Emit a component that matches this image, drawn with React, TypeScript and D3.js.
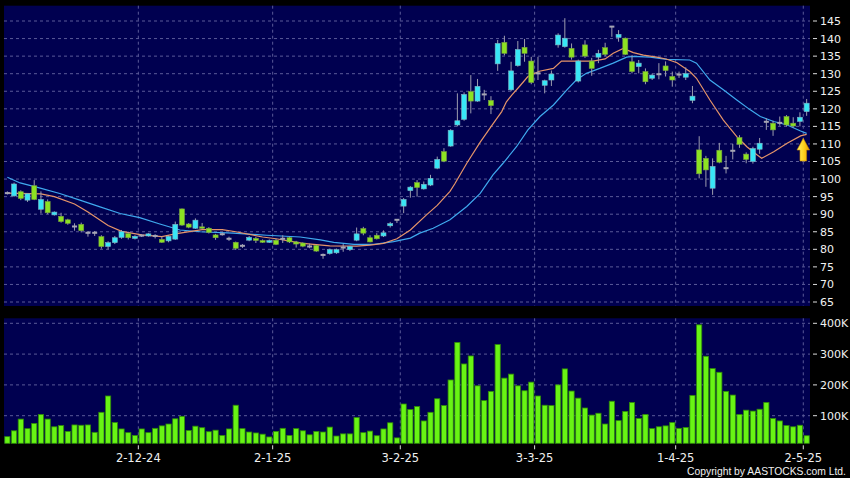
import * as d3 from "d3";

// daily candles, 4 Nov 2024 .. 2 May 2025 (index = trading day)
const OPEN = [
  96.0, 95.2, 96.4, 94.0, 98.1, 91.4, 93.6, 89.8, 89.4, 88.4,
  86.5, 87.1, 84.7, 84.7, 83.6, 80.8, 81.9, 83.4, 84.5, 83.1,
  83.9, 83.8, 83.8, 82.8, 82.4, 82.9, 91.5, 87.2, 86.0, 86.4,
  86.0, 84.1, 84.3, 83.0, 82.0, 81.0, 82.6, 83.1, 82.5, 82.0,
  82.6, 83.0, 83.3, 82.1, 81.8, 80.8, 81.1, 78.4, 78.8, 79.0,
  80.5, 79.9, 82.6, 85.9, 83.3, 84.0, 83.8, 86.7, 88.4, 92.3,
  96.7, 99.0, 97.2, 98.3, 103.1, 107.8, 109.4, 115.4, 117.0, 124.9,
  122.2, 124.1, 122.4, 132.8, 138.9, 125.4, 132.3, 137.5, 133.6, 130.1,
  126.7, 128.2, 138.2, 137.7, 137.2, 127.9, 138.2, 133.6, 134.7, 137.4,
  143.4, 140.3, 140.1, 133.4, 132.0, 130.6, 128.7, 129.7, 132.2, 129.2,
  129.7, 129.0, 122.4, 108.3, 105.9, 97.4, 108.2, 103.1, 107.9, 111.8,
  107.1, 105.0, 108.5, 116.3, 115.9, 116.0, 117.8, 115.9, 116.4, 119.2,
];
const HIGH = [
  96.5, 99.0, 96.8, 96.0, 99.7, 96.5, 94.2, 90.8, 90.4, 88.7,
  87.4, 87.6, 85.2, 85.2, 84.0, 82.3, 83.8, 85.5, 85.0, 84.0,
  84.3, 84.6, 84.3, 83.6, 84.0, 87.9, 91.6, 87.5, 88.8, 87.5,
  86.3, 84.4, 84.8, 83.6, 82.2, 81.5, 83.8, 83.5, 82.8, 82.8,
  83.0, 84.0, 83.6, 82.4, 82.0, 81.6, 81.3, 78.8, 80.2, 80.2,
  81.5, 81.0, 86.2, 86.4, 84.0, 84.6, 85.4, 87.8, 88.6, 94.6,
  98.0, 99.7, 99.3, 101.2, 106.4, 108.8, 114.2, 124.4, 124.7, 129.6,
  128.5, 125.4, 123.6, 139.6, 140.8, 133.4, 139.3, 139.9, 134.8, 134.8,
  128.3, 130.9, 141.5, 145.8, 138.6, 134.0, 139.5, 134.5, 136.8, 138.8,
  143.6, 142.4, 140.3, 135.3, 133.9, 131.5, 130.0, 133.0, 133.5, 130.6,
  130.6, 131.8, 126.5, 112.2, 106.6, 105.9, 110.3, 106.6, 110.0, 112.5,
  107.6, 109.2, 111.7, 117.3, 116.6, 117.8, 118.2, 117.6, 119.0, 122.8,
];
const LOW = [
  95.6, 95.0, 94.0, 93.5, 94.0, 90.2, 90.0, 89.6, 87.6, 87.0,
  85.3, 84.8, 83.6, 83.8, 80.2, 80.0, 81.5, 83.0, 82.8, 82.8,
  83.5, 83.6, 83.1, 81.8, 82.0, 82.7, 86.7, 86.0, 85.8, 85.8,
  84.5, 82.7, 83.9, 82.4, 79.8, 80.4, 82.3, 81.8, 81.8, 81.8,
  81.2, 81.8, 81.8, 80.5, 80.6, 80.3, 79.3, 77.3, 78.5, 78.7,
  79.3, 79.5, 82.3, 84.0, 82.0, 82.8, 83.5, 86.2, 87.5, 90.3,
  94.7, 95.0, 97.0, 98.0, 102.8, 104.8, 109.2, 115.0, 116.6, 118.7,
  122.0, 122.5, 118.5, 130.8, 135.2, 125.0, 132.0, 133.4, 127.0, 128.2,
  124.4, 126.5, 137.4, 137.4, 134.0, 127.5, 134.5, 129.4, 133.0, 135.0,
  140.5, 139.1, 135.3, 130.1, 130.1, 127.0, 128.2, 128.4, 129.2, 126.3,
  128.8, 128.2, 121.6, 100.2, 97.8, 95.5, 104.5, 101.6, 105.6, 108.9,
  104.5, 104.4, 107.2, 114.0, 112.3, 115.2, 115.0, 114.6, 115.0, 118.0,
];
const CLOSE = [
  96.0, 98.6, 94.5, 95.8, 94.2, 94.2, 90.4, 90.6, 87.9, 87.4,
  86.5, 85.3, 84.7, 84.7, 80.8, 81.9, 83.3, 85.0, 83.3, 83.7,
  83.9, 84.4, 83.8, 82.0, 83.7, 87.1, 86.9, 86.3, 88.3, 86.0,
  84.8, 83.3, 84.3, 83.0, 80.3, 81.0, 83.4, 82.5, 82.0, 82.5,
  81.4, 83.0, 82.1, 81.5, 80.9, 80.8, 79.5, 78.4, 79.9, 79.9,
  80.5, 80.8, 84.4, 84.6, 82.1, 83.0, 84.7, 87.3, 88.4, 94.2,
  97.7, 97.6, 98.5, 100.2, 105.6, 105.1, 113.9, 116.6, 124.1, 122.2,
  126.4, 124.1, 120.9, 138.6, 135.8, 130.8, 136.9, 135.8, 127.5, 130.1,
  128.0, 129.9, 141.0, 140.1, 134.7, 133.6, 135.0, 131.5, 135.8, 135.5,
  143.4, 141.2, 135.5, 130.6, 133.0, 127.7, 129.6, 130.0, 130.9, 128.2,
  129.8, 130.0, 123.6, 101.5, 102.6, 103.6, 104.8, 103.1, 108.2, 109.9,
  105.6, 108.7, 110.2, 116.3, 114.0, 116.0, 115.4, 115.1, 117.6, 121.6,
];
// volume in thousands of shares
const VOLUME = [
  32, 51, 89, 58, 75, 104, 89, 64, 68, 49,
  70, 69, 70, 46, 111, 164, 78, 57, 45, 36,
  57, 45, 59, 67, 73, 90, 98, 52, 66, 61,
  48, 53, 36, 57, 134, 58, 47, 44, 40, 31,
  49, 59, 36, 58, 51, 38, 49, 47, 63, 34,
  41, 41, 94, 45, 50, 35, 57, 77, 28, 138,
  120, 130, 83, 111, 155, 133, 216, 338, 268, 294,
  197, 149, 179, 331, 222, 235, 197, 181, 209, 164,
  134, 133, 200, 252, 180, 157, 125, 102, 108, 73,
  147, 84, 114, 143, 91, 104, 58, 64, 67, 78,
  59, 62, 166, 395, 293, 253, 241, 179, 167, 104,
  118, 115, 121, 143, 91, 83, 68, 64, 69, 35,
];
// moving averages: [day index, value]
const MA_SHORT: [number, number][] = [
  [0, 96.0], [5, 95.8], [7, 95.0], [10, 92.9], [12, 90.6], [15, 86.8], [17, 85.1],
  [20, 84.1], [23, 83.6], [25, 84.4], [29, 85.6], [32, 85.6], [34, 85.0], [38, 83.5],
  [40, 83.0], [44, 81.7], [48, 81.0], [52, 80.9], [54, 81.2], [56, 81.7], [58, 83.0],
  [60, 85.5], [62.4, 89.8], [64, 92.5], [65.9, 96.5], [66.6, 98.6], [68.4, 104.5],
  [70.4, 110.5], [72.3, 115.7], [73.6, 119.2], [74.3, 122.0], [75.1, 123.9], [76.3, 126.5],
  [77.5, 129.2], [79.2, 130.7], [81.3, 131.5], [82.5, 133.6], [87.2, 133.6], [89, 134.2],
  [90.2, 135.8], [91.7, 137.2], [93.2, 136.0], [94.7, 135.3], [96.7, 134.7], [98.2, 134.1],
  [99.7, 133.1], [101.6, 130.6], [102.6, 128.7], [104.6, 122.5], [106.6, 116.8],
  [108.6, 112.1], [110.1, 109.2], [111.6, 106.9], [112.3, 105.9], [114.1, 107.8],
  [116.1, 110.2], [118.1, 112.3], [119, 112.7],
];
const MA_LONG: [number, number][] = [
  [0, 100.5], [1.9, 98.9], [4.9, 97.4], [7.8, 95.9], [10.8, 94.0], [13.8, 92.1],
  [16.8, 90.2], [19.7, 89.0], [22.7, 87.2], [25.7, 85.5], [28.7, 85.0], [33.6, 84.6],
  [38.6, 84.0], [43.6, 83.5], [46.6, 82.7], [48.6, 82.0], [51.6, 81.4], [54.6, 81.4],
  [57.5, 82.2], [60, 83.2], [61.4, 84.6], [63.4, 86.0], [65.9, 88.4], [68.4, 92.2],
  [70.4, 95.9], [72.3, 101.2], [73.8, 104.5], [75.8, 109.2], [77.5, 114.0], [79.3, 117.8],
  [81.3, 121.1], [83.3, 125.4], [84.7, 128.2], [86.2, 130.1], [88.2, 131.5], [90.2, 133.0],
  [92.2, 134.7], [93.2, 134.9], [95.7, 134.7], [98.2, 134.1], [101.6, 133.9], [102.6, 133.0],
  [104.6, 128.2], [106.6, 125.4], [108.6, 122.5], [110.6, 119.7], [112.1, 117.8],
  [114.1, 116.4], [116.1, 115.4], [118.1, 113.7], [119, 113.0],
];
const PRICE_TICKS = [65, 70, 75, 80, 85, 90, 95, 100, 105, 110, 115, 120, 125, 130, 135, 140, 145];
const VOL_TICKS = [100, 200, 300, 400];
const VOL_LABELS = ["100K", "200K", "300K", "400K"];
const DATE_TICK_INDEX = [20, 40, 59, 79, 100, 119];
const DATE_TICK_LABELS = ["2-12-24", "2-1-25", "3-2-25", "3-3-25", "1-4-25", "2-5-25"];
const ARROW_AT = { index: 119, price: 111.6 };

const FONT = "DejaVu Sans, Verdana, sans-serif";
const GRID = "#5a5a98";

export default function App() {
  const W = 850;
  const H = 478;
  const left = 4;
  const right = 810;
  const pTop = 5.7;
  const pBot = 306;
  const vTop = 318.3;
  const vBot = 443.3;
  const n = CLOSE.length;

  const x = d3.scaleBand<number>().domain(d3.range(n)).range([left, right]);
  const step = x.step();
  const cx = (i: number) => (x(i) ?? 0) + step / 2;
  const xi = d3.scaleLinear().domain([0, n - 1]).range([cx(0), cx(n - 1)]);
  const y = d3.scaleLinear().domain([65, 145]).range([302, 21]);
  const yv = d3.scaleLinear().domain([0, 400]).range([446.5, 323.3]);

  const maLine = d3
    .line<[number, number]>()
    .x((d) => xi(d[0]))
    .y((d) => y(d[1]));

  const bodyW = 5;
  const volW = 5.2;

  const ax = x(ARROW_AT.index) ?? 0;
  const ay = y(ARROW_AT.price);
  const arrow = `M${ax},${ay} L${ax + 6.3},${ay + 11.7} L${ax + 3.3},${ay + 11.7} L${ax + 3.3},${ay + 22.7} L${ax - 3.3},${ay + 22.7} L${ax - 3.3},${ay + 11.7} L${ax - 6.3},${ay + 11.7} Z`;

  return (
    <svg
      width={W}
      height={H}
      style={{ position: "absolute", left: 0, top: 0, background: "#000" }}
    >
      <defs>
        <linearGradient id="arrowFill" x1="0" x2="1" y1="0" y2="0">
          <stop offset="0%" stopColor="#fff36a" />
          <stop offset="55%" stopColor="#ffd21c" />
          <stop offset="100%" stopColor="#e89a00" />
        </linearGradient>
        <clipPath id="pclip">
          <rect x={left} y={pTop} width={right - left} height={pBot - pTop} />
        </clipPath>
      </defs>
      <rect width={W} height={H} fill="#000" />

      {/* price panel */}
      <rect x={left} y={pTop} width={right - left} height={pBot - pTop} fill="#000050" />
      {PRICE_TICKS.map((t) => (
        <line key={"pg" + t} x1={left} x2={right} y1={y(t)} y2={y(t)}
          stroke={GRID} strokeDasharray="3,3" strokeWidth={1} />
      ))}
      {DATE_TICK_INDEX.map((i) => (
        <line key={"pv" + i} x1={x(i)} x2={x(i)} y1={pTop} y2={pBot}
          stroke={GRID} strokeDasharray="3,3" strokeWidth={1} />
      ))}
      {PRICE_TICKS.map((t) => (
        <g key={"pl" + t}>
          <line x1={813} x2={817} y1={y(t)} y2={y(t)} stroke="#ddd" />
          <text x={820} y={y(t)} dy="0.36em" fill="#f0f0f0" fontSize={11} fontFamily={FONT}>
            {t}
          </text>
        </g>
      ))}

      <g clipPath="url(#pclip)">
        <path d={maLine(MA_LONG) ?? ""} fill="none" stroke="#3fa9ee" strokeWidth={1.2} />
        <path d={maLine(MA_SHORT) ?? ""} fill="none" stroke="#e59469" strokeWidth={1.2} />
        {CLOSE.map((c, i) => {
          const o = OPEN[i];
          const flat = Math.abs(c - o) < 0.35;
          const color = flat ? "#a6a6b4" : c > o ? "#38e6f6" : "#8ce222";
          const edge = flat ? "#a6a6b4" : c > o ? "#7fb4c4" : "#78a040";
          const top = y(Math.max(o, c));
          const bot = y(Math.min(o, c));
          return (
            <g key={"c" + i}>
              <line x1={cx(i)} x2={cx(i)} y1={y(HIGH[i])} y2={y(LOW[i])} stroke="#9c9cae" strokeWidth={1} />
              {flat ? (
                <rect x={cx(i) - bodyW / 2} y={(top + bot) / 2 - 1} width={bodyW} height={Math.max(2, bot - top)} fill={color} />
              ) : (
                <rect x={cx(i) - bodyW / 2} y={top} width={bodyW} height={Math.max(1.5, bot - top)}
                  fill={color} stroke={edge} strokeWidth={0.6} />
              )}
            </g>
          );
        })}
        <path d={arrow} fill="url(#arrowFill)" stroke="#c88a00" strokeWidth={0.6} />
      </g>

      {/* volume panel */}
      <rect x={left} y={vTop} width={right - left} height={vBot - vTop} fill="#000050" />
      {VOL_TICKS.map((t) => (
        <line key={"vg" + t} x1={left} x2={right} y1={yv(t)} y2={yv(t)}
          stroke={GRID} strokeDasharray="3,3" strokeWidth={1} />
      ))}
      {DATE_TICK_INDEX.map((i) => (
        <line key={"vv" + i} x1={x(i)} x2={x(i)} y1={vTop} y2={vBot}
          stroke={GRID} strokeDasharray="3,3" strokeWidth={1} />
      ))}
      {VOLUME.map((v, i) => (
        <rect key={"v" + i} x={cx(i) - volW / 2} y={yv(v)} width={volW} height={Math.max(0, vBot - yv(v))}
          fill="#68f414" stroke="#2f8a08" strokeWidth={0.8} />
      ))}
      {VOL_TICKS.map((t, k) => (
        <g key={"vl" + t}>
          <line x1={813} x2={817} y1={yv(t)} y2={yv(t)} stroke="#ddd" />
          <text x={820} y={yv(t)} dy="0.36em" fill="#f0f0f0" fontSize={11} fontFamily={FONT}>
            {VOL_LABELS[k]}
          </text>
        </g>
      ))}

      {/* date axis */}
      {DATE_TICK_INDEX.map((i, k) => (
        <g key={"dl" + i}>
          <line x1={x(i)} x2={x(i)} y1={vBot + 2} y2={vBot + 6} stroke="#ddd" />
          <text x={x(i)} y={462} textAnchor="middle" fill="#f0f0f0" fontSize={11.5} fontFamily={FONT}>
            {DATE_TICK_LABELS[k]}
          </text>
        </g>
      ))}
      <text x={846} y={475} textAnchor="end" fill="#f0f0f0" fontSize={10.5}
        fontFamily="Liberation Sans, Arial, sans-serif" textLength={159} lengthAdjust="spacingAndGlyphs">
        Copyright by AASTOCKS.com Ltd.
      </text>
    </svg>
  );
}
